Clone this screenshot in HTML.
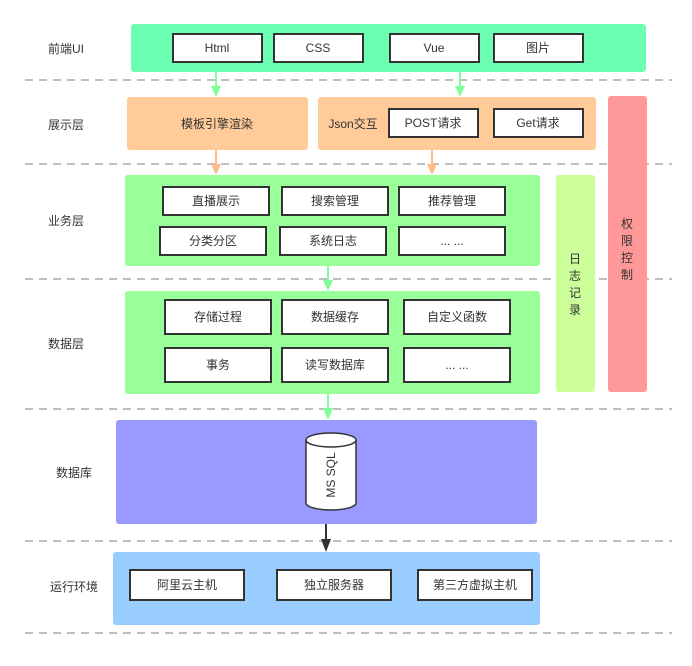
<!DOCTYPE html>
<html><head><meta charset="utf-8"><style>
html,body{margin:0;padding:0;background:#fff;}
svg{display:block;font-family:"Liberation Sans","Noto Sans CJK SC",sans-serif;}
</style></head><body>
<svg width="692" height="666" viewBox="0 0 692 666" xmlns="http://www.w3.org/2000/svg">
<defs>
<marker id="ag" markerWidth="10" markerHeight="10" refX="5" refY="9" orient="auto" markerUnits="userSpaceOnUse"><path d="M0,0 L10,0 L5,10 z" fill="#80ff99" transform="rotate(-90 5 5)"/></marker>
</defs>
<g stroke="#aaa" stroke-width="1.5" stroke-dasharray="8,6">
<line x1="25" y1="80" x2="672" y2="80"/>
<line x1="25" y1="164" x2="672" y2="164"/>
<line x1="25" y1="279" x2="672" y2="279"/>
<line x1="25" y1="409" x2="672" y2="409"/>
<line x1="25" y1="541" x2="672" y2="541"/>
<line x1="25" y1="633" x2="672" y2="633"/>
</g>
<g font-size="12" fill="#333">
<text x="48" y="53">前端UI</text>
<text x="48" y="129">展示层</text>
<text x="48" y="225">业务层</text>
<text x="48" y="348">数据层</text>
<text x="56" y="477">数据库</text>
<text x="50" y="591">运行环境</text>
</g>
<!-- panels -->
<rect x="131" y="24" width="515" height="48" rx="3" fill="#6dffb1"/>
<rect x="127" y="97" width="181" height="53" rx="3" fill="#ffcc99"/>
<rect x="318" y="97" width="278" height="53" rx="3" fill="#ffcc99"/>
<rect x="608" y="96" width="39" height="296" rx="3" fill="#ff9999"/>
<rect x="556" y="175" width="39" height="217" rx="3" fill="#ccff99"/>
<rect x="125" y="175" width="415" height="91" rx="3" fill="#99ff99"/>
<rect x="125" y="291" width="415" height="103" rx="3" fill="#99ff99"/>
<rect x="116" y="420" width="421" height="104" rx="3" fill="#9999ff"/>
<rect x="113" y="552" width="427" height="73" rx="3" fill="#99ccff"/>
<!-- boxes -->
<g fill="#fff" stroke="#333" stroke-width="2">
<rect x="173" y="34" width="89" height="28"/>
<rect x="274" y="34" width="89" height="28"/>
<rect x="390" y="34" width="89" height="28"/>
<rect x="494" y="34" width="89" height="28"/>
<rect x="389" y="109" width="89" height="28"/>
<rect x="494" y="109" width="89" height="28"/>
<rect x="163" y="187" width="106" height="28"/>
<rect x="282" y="187" width="106" height="28"/>
<rect x="399" y="187" width="106" height="28"/>
<rect x="160" y="227" width="106" height="28"/>
<rect x="280" y="227" width="106" height="28"/>
<rect x="399" y="227" width="106" height="28"/>
<rect x="165" y="300" width="106" height="34"/>
<rect x="282" y="300" width="106" height="34"/>
<rect x="404" y="300" width="106" height="34"/>
<rect x="165" y="348" width="106" height="34"/>
<rect x="282" y="348" width="106" height="34"/>
<rect x="404" y="348" width="106" height="34"/>
<rect x="130" y="570" width="114" height="30"/>
<rect x="277" y="570" width="114" height="30"/>
<rect x="418" y="570" width="114" height="30"/>
</g>
<g font-size="12" fill="#333" text-anchor="middle">
<text x="217" y="52">Html</text>
<text x="318" y="52">CSS</text>
<text x="434" y="52">Vue</text>
<text x="538" y="52">图片</text>
<text x="217" y="128">模板引擎渲染</text>
<text x="353" y="128">Json交互</text>
<text x="433" y="127">POST请求</text>
<text x="538" y="127">Get请求</text>
<text x="216" y="205">直播展示</text>
<text x="335" y="205">搜索管理</text>
<text x="452" y="205">推荐管理</text>
<text x="213" y="245">分类分区</text>
<text x="333" y="245">系统日志</text>
<text x="452" y="245">... ...</text>
<text x="218" y="321">存储过程</text>
<text x="335" y="321">数据缓存</text>
<text x="457" y="321">自定义函数</text>
<text x="218" y="369">事务</text>
<text x="335" y="369">读写数据库</text>
<text x="457" y="369">... ...</text>
<text x="187" y="589">阿里云主机</text>
<text x="334" y="589">独立服务器</text>
<text x="475" y="589">第三方虚拟主机</text>
<text x="627" y="228">权</text>
<text x="627" y="245">限</text>
<text x="627" y="262">控</text>
<text x="627" y="279">制</text>
<text x="575" y="263">日</text>
<text x="575" y="280">志</text>
<text x="575" y="297">记</text>
<text x="575" y="314">录</text>
</g>
<!-- cylinder -->
<path d="M306,440 L306,503 A25,7 0 0 0 356,503 L356,440" fill="#fff" stroke="#333" stroke-width="1.5"/>
<ellipse cx="331" cy="440" rx="25" ry="7" fill="#fff" stroke="#333" stroke-width="1.5"/>
<text x="0" y="0" font-size="12" fill="#333" text-anchor="middle" transform="translate(335,475) rotate(-90)">MS SQL</text>
<!-- arrows -->
<g stroke-width="2">
<line x1="216" y1="72" x2="216" y2="88" stroke="#80ff99"/>
<line x1="460" y1="72" x2="460" y2="88" stroke="#80ff99"/>
<line x1="216" y1="150" x2="216" y2="166" stroke="#ffbb88"/>
<line x1="432" y1="150" x2="432" y2="166" stroke="#ffbb88"/>
<line x1="328" y1="266" x2="328" y2="282" stroke="#80ff99"/>
<line x1="328" y1="394" x2="328" y2="410" stroke="#80ff99"/>
<line x1="326" y1="524" x2="326" y2="541" stroke="#333"/>
</g>
<path d="M211,86 L221,86 L216,97 z" fill="#80ff99"/>
<path d="M455,86 L465,86 L460,97 z" fill="#80ff99"/>
<path d="M211,164 L221,164 L216,175 z" fill="#ffbb88"/>
<path d="M427,164 L437,164 L432,175 z" fill="#ffbb88"/>
<path d="M323,280 L333,280 L328,291 z" fill="#80ff99"/>
<path d="M323,408 L333,408 L328,420 z" fill="#80ff99"/>
<path d="M321,539 L331,539 L326,552 z" fill="#333"/>
</svg>
</body></html>
